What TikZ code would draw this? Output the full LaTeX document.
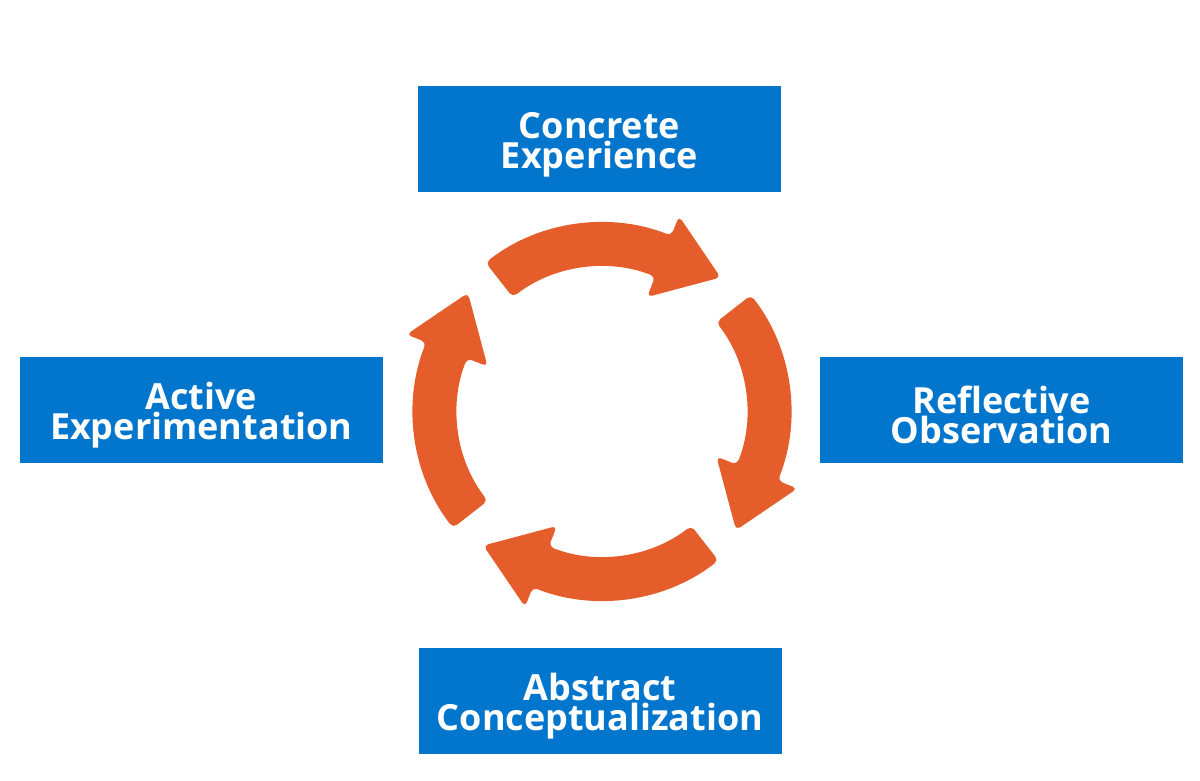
\documentclass[tikz,border=0pt]{standalone}
\usepackage{fontspec}
\setmainfont{Open Sans}
\usepackage{tikz}
\usetikzlibrary{positioning, calc}
\definecolor{stageblue}{RGB}{2,118,204}
\definecolor{cycleorange}{RGB}{229,93,42}
\tikzset{
  stage/.style={
    rectangle, minimum width=363pt, minimum height=106pt,
    text centered, text width=350pt, inner sep=0pt,
    fill=stageblue, text=white,
    font=\bfseries\fontsize{36}{30}\selectfont,
    execute at end node={\par\kern-10pt}
  },
  cyclearr/.style={fill=cycleorange, rounded corners=5pt}
}

\begin{document}
\begin{tikzpicture}[x=1pt, y=1pt]
  \useasboundingbox (0,0) rectangle (1200,780);
  \coordinate (cyc) at (602,368.5);

  \node[stage, above=219pt of cyc, xshift=-2.5pt] (ce) {Concrete\\Experience};
  \node[stage, right=218pt of cyc, yshift=1.5pt]  (ro) {Reflective\\Observation};
  \node[stage, below=236.5pt of cyc, xshift=-2pt] (ac) {Abstract\\Conceptualization};
  \node[stage, left=219pt of cyc, yshift=1.5pt]   (ae) {Active\\Experimentation};

  %% the four arrows of the cycle
  \begin{scope}[shift={(cyc)}]
    \foreach \a in {0,90,180,270}
      \fill[cyclearr] ({128-\a}:189)
        arc[start angle=128-\a, end angle=68.5-\a, radius=189]
        -- ({68.5-\a}:210) -- ({48.5-\a}:179) -- ({68.5-\a}:123) -- ({68.5-\a}:145)
        arc[start angle=68.5-\a, end angle=128-\a, radius=145] -- cycle;
  \end{scope}

\end{tikzpicture}
\end{document}
